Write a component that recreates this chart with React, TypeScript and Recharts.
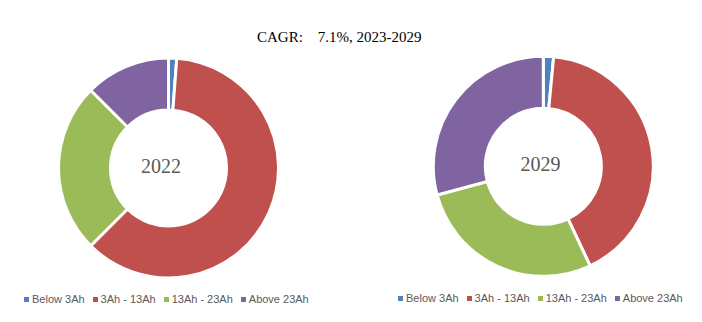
import React from "react";
import { PieChart, Pie, Cell } from "recharts";

const categories = ["Below 3Ah", "3Ah - 13Ah", "13Ah - 23Ah", "Above 23Ah"];
const share2022 = [1.2, 61.3, 25.0, 12.5];
const share2029 = [1.5, 41.5, 27.8, 29.2];
const years = ["2022", "2029"];
const colors = ["#4F81BD", "#C0504D", "#9BBB59", "#8064A2"];
const title = "CAGR:    7.1%, 2023-2029";

const data2022 = categories.map((name, i) => ({ name, value: share2022[i] }));
const data2029 = categories.map((name, i) => ({ name, value: share2029[i] }));

const pies = [
  { data: data2022, cx: 163.5, cy: 163, label: years[0], lx: 161, ly: 166 },
  { data: data2029, cx: 538.3, cy: 161.3, label: years[1], lx: 540.5, ly: 164 },
];

const LegendRow = ({ left, top }: { left: number; top: number }) => (
  <div
    style={{
      position: "absolute",
      left,
      top,
      display: "flex",
      alignItems: "center",
      fontFamily: "'Liberation Sans', Arial, sans-serif",
      fontSize: 11,
      color: "#595959",
      whiteSpace: "nowrap",
    }}
  >
    {categories.map((c, i) => (
      <div key={c} style={{ display: "flex", alignItems: "center", marginRight: 8 }}>
        <span
          style={{
            display: "inline-block",
            width: 5,
            height: 5,
            background: colors[i],
            marginRight: 3,
          }}
        />
        <span>{c}</span>
      </div>
    ))}
  </div>
);

export default function App() {
  return (
    <div style={{ position: "absolute", left: 0, top: 0, width: 702, height: 322, background: "#fff" }}>
      <PieChart width={702} height={322}>
        {pies.map((p) => (
          <Pie
            key={p.label}
            data={p.data}
            dataKey="value"
            nameKey="name"
            cx={p.cx}
            cy={p.cy}
            innerRadius={58}
            outerRadius={110}
            startAngle={90}
            endAngle={-270}
            stroke="#ffffff"
            strokeWidth={3}
            isAnimationActive={false}
          >
            {p.data.map((d, i) => (
              <Cell key={d.name} fill={colors[i]} />
            ))}
          </Pie>
        ))}
      </PieChart>
      {pies.map((p) => (
        <div
          key={p.label}
          style={{
            position: "absolute",
            left: p.lx - 40,
            width: 80,
            top: p.ly - 12,
            height: 24,
            lineHeight: "24px",
            textAlign: "center",
            fontFamily: "'Liberation Serif', 'DejaVu Serif', serif",
            fontSize: 20,
            color: "#595959",
          }}
        >
          {p.label}
        </div>
      ))}
      <div
        style={{
          position: "absolute",
          left: 257,
          top: 29,
          fontFamily: "'Liberation Serif', 'DejaVu Serif', serif",
          fontSize: 15,
          color: "#000",
          whiteSpace: "pre",
        }}
      >
        {title}
      </div>
      <LegendRow left={24} top={293} />
      <LegendRow left={398} top={292} />
    </div>
  );
}
